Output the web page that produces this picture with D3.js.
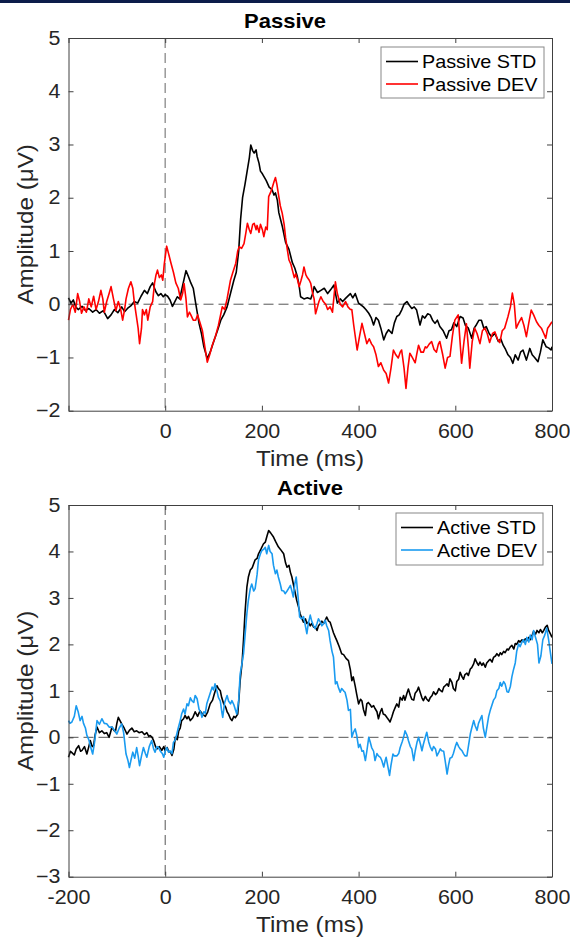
<!DOCTYPE html>
<html>
<head>
<meta charset="utf-8">
<script src="https://cdn.jsdelivr.net/npm/d3@7/dist/d3.min.js"></script>
<style>
body { margin: 0; background: #fff; }
svg text { font-family: "Liberation Sans", Arial, Helvetica, sans-serif; }
</style>
</head>
<body>
<svg width="570" height="937"></svg>
<script>
var timeTicks = [-200, 0, 200, 400, 600, 800];
var passiveTicks = [-2, -1, 0, 1, 2, 3, 4, 5];
var activeTicks = [-3, -2, -1, 0, 1, 2, 3, 4, 5];

// [time ms, amplitude uV]
var passiveStd = [[-200,0.12],[-195,0.02],[-190,0.08],[-185,-0.05],[-180,-0.1],[-172,-0.04],[-165,-0.12],[-158,-0.08],[-150,-0.15],[-143,-0.1],[-136,-0.17],[-128,-0.12],[-119,-0.27],[-112,-0.2],[-105,-0.1],[-98,-0.16],[-90,-0.05],[-84,-0.14],[-78,-0.08],[-70,-0.02],[-64,0.05],[-57,0.02],[-50,0.15],[-43,0.26],[-37,0.2],[-31,0.33],[-26,0.4],[-22,0.3],[-19,0.23],[-14,0.16],[-9,0.2],[-4,0.14],[0,0.18],[5,0.15],[10,0.08],[15,-0.04],[20,0.05],[25,0.14],[30,0.1],[36,0.35],[43,0.63],[48,0.52],[53,0.4],[58,0.3],[63,0.02],[70,-0.36],[75,-0.55],[80,-0.8],[87,-1.02],[93,-0.9],[101,-0.68],[108,-0.5],[115,-0.3],[121,-0.2],[128,-0.05],[135,0.2],[142,0.45],[147,0.6],[152,1.0],[156,1.6],[160,2.0],[165,2.25],[170,2.53],[174,2.75],[177,2.99],[181,2.88],[184,2.84],[188,2.9],[190,2.78],[194,2.65],[197,2.5],[201,2.45],[204,2.4],[209,2.32],[215,2.2],[221,2.15],[225,2.05],[228,2.09],[232,1.95],[235,1.72],[242,1.47],[249,1.16],[256,1.03],[263,0.78],[268,0.68],[273,0.53],[277,0.35],[280,0.14],[287,0.1],[294,0.12],[301,0.1],[305,0.2],[308,0.33],[315,0.22],[322,0.26],[329,0.3],[336,0.2],[342,0.27],[349,0.36],[356,0.02],[362,0.1],[367,0.05],[373,0.11],[383,0.2],[388,0.12],[393,0.2],[400,0.02],[410,-0.05],[415,-0.1],[421,-0.17],[426,-0.25],[431,-0.39],[436,-0.25],[441,-0.3],[446,-0.45],[452,-0.67],[457,-0.55],[462,-0.48],[469,-0.55],[474,-0.35],[479,-0.23],[484,-0.2],[489,-0.11],[494,0.0],[500,0.05],[505,-0.02],[510,-0.08],[515,-0.05],[520,-0.11],[527,-0.39],[532,-0.22],[537,-0.26],[543,-0.18],[548,-0.2],[553,-0.3],[558,-0.36],[563,-0.3],[568,-0.42],[575,-0.5],[582,-0.64],[587,-0.5],[592,-0.48],[597,-0.35],[603,-0.42],[610,-0.23],[616,-0.26],[621,-0.4],[627,-0.45],[634,-0.64],[639,-0.45],[644,-0.38],[649,-0.3],[654,-0.3],[659,-0.45],[664,-0.42],[670,-0.55],[675,-0.61],[682,-0.55],[689,-0.7],[694,-0.65],[699,-0.77],[704,-0.85],[709,-0.95],[714,-1.0],[719,-1.11],[724,-0.95],[730,-1.05],[735,-0.9],[740,-0.86],[747,-1.05],[754,-0.83],[759,-0.95],[764,-1.0],[771,-1.08],[776,-0.9],[781,-0.67],[788,-0.8],[793,-0.82],[798,-0.86],[800,-0.8]];

var passiveDev = [[-200,-0.3],[-196,-0.1],[-191,0.0],[-186,-0.15],[-181,0.2],[-177,0.05],[-173,-0.17],[-168,-0.05],[-163,-0.15],[-158,0.1],[-153,-0.05],[-148,0.15],[-143,-0.1],[-138,0.05],[-133,0.26],[-129,0.1],[-126,-0.15],[-121,0.05],[-116,0.2],[-112,0.33],[-107,0.1],[-102,-0.12],[-97,0.05],[-92,-0.1],[-88,-0.3],[-84,-0.1],[-81,0.1],[-76,0.3],[-71,0.42],[-67,0.3],[-64,0.05],[-60,-0.2],[-56,-0.45],[-53,-0.74],[-49,-0.45],[-47,-0.1],[-43,-0.2],[-39,-0.1],[-36,-0.3],[-31,-0.05],[-26,0.05],[-22,0.4],[-19,0.55],[-16,0.64],[-12,0.5],[-8,0.55],[-5,0.45],[-2,0.75],[3,1.09],[7,0.95],[12,0.77],[17,0.6],[22,0.4],[27,0.3],[32,0.08],[36,0.2],[39,0.39],[43,0.1],[46,-0.24],[50,-0.15],[53,-0.2],[58,-0.3],[63,-0.3],[67,-0.2],[72,-0.35],[77,-0.5],[82,-0.8],[87,-1.09],[92,-0.95],[97,-0.78],[104,-0.6],[110,-0.4],[118,-0.05],[123,-0.1],[128,0.1],[135,0.45],[140,0.6],[146,0.77],[150,1.0],[153,1.08],[158,1.05],[163,1.14],[167,1.35],[170,1.52],[174,1.4],[177,1.33],[181,1.5],[184,1.52],[188,1.4],[190,1.48],[194,1.35],[197,1.5],[201,1.4],[204,1.27],[208,1.45],[211,1.4],[214,2.02],[218,2.1],[221,2.18],[225,2.3],[228,2.38],[231,2.25],[235,2.02],[238,1.85],[242,1.71],[246,1.5],[249,1.25],[253,1.0],[256,0.83],[260,0.75],[263,0.64],[267,0.5],[270,0.57],[274,0.45],[277,0.33],[281,0.45],[284,0.55],[287,0.7],[291,0.55],[294,0.5],[298,0.45],[301,0.39],[305,0.2],[308,0.1],[311,-0.18],[315,-0.05],[318,0.05],[322,0.14],[327,0.05],[332,0.0],[336,-0.1],[341,-0.05],[346,-0.15],[352,0.42],[356,0.2],[362,0.0],[367,-0.05],[373,0.05],[378,-0.05],[383,-0.1],[386,-0.1],[390,-0.4],[397,-0.86],[402,-0.6],[407,-0.36],[412,-0.55],[417,-0.74],[422,-0.65],[427,-0.75],[431,-0.8],[436,-0.95],[441,-1.17],[446,-1.1],[452,-1.24],[457,-1.3],[462,-1.48],[467,-1.2],[472,-0.86],[477,-0.95],[482,-1.01],[486,-0.9],[489,-0.86],[494,-1.2],[498,-1.58],[502,-1.2],[506,-0.92],[511,-1.0],[517,-1.1],[520,-0.95],[524,-0.77],[529,-0.9],[534,-0.9],[538,-0.8],[541,-0.82],[546,-0.75],[551,-0.7],[556,-0.85],[561,-0.9],[565,-0.75],[568,-0.7],[574,-0.95],[579,-1.2],[584,-1.0],[589,-0.98],[594,-0.6],[599,-0.3],[606,-0.2],[609,-0.6],[613,-1.11],[618,-0.7],[623,-0.37],[627,-0.8],[630,-1.2],[635,-0.7],[640,-0.45],[645,-0.55],[651,-0.74],[656,-0.5],[661,-0.45],[666,-0.55],[671,-0.72],[677,-0.55],[682,-0.52],[687,-0.65],[692,-0.72],[697,-0.5],[702,-0.45],[709,-0.23],[714,-0.05],[718,0.21],[722,0.0],[726,-0.45],[731,-0.35],[737,-0.25],[742,-0.4],[747,-0.61],[752,-0.35],[757,-0.11],[762,-0.2],[768,-0.33],[773,-0.4],[778,-0.45],[783,-0.55],[787,-0.64],[791,-0.45],[795,-0.4],[800,-0.33]];

var activeStd = [[-200,-0.43],[-196,-0.3],[-193,-0.33],[-188,-0.38],[-184,-0.25],[-179,-0.18],[-175,-0.3],[-172,-0.28],[-167,-0.2],[-162,-0.36],[-158,-0.2],[-155,-0.07],[-151,-0.2],[-148,-0.18],[-145,0.05],[-141,0.22],[-136,0.1],[-131,0.14],[-126,0.08],[-121,0.1],[-116,0.0],[-110,0.22],[-106,0.15],[-103,0.12],[-100,0.3],[-97,0.43],[-93,0.35],[-90,0.29],[-85,0.2],[-79,0.07],[-74,0.15],[-69,0.2],[-64,0.12],[-59,0.14],[-54,0.1],[-48,0.12],[-43,0.06],[-38,0.1],[-34,0.02],[-31,0.04],[-27,0.0],[-24,-0.07],[-20,-0.2],[-17,-0.25],[-12,-0.2],[-7,-0.28],[-3,-0.2],[0,-0.29],[4,-0.22],[7,-0.3],[11,-0.32],[14,-0.39],[18,-0.25],[21,0.0],[25,-0.05],[28,0.14],[31,0.2],[34,0.36],[38,0.4],[41,0.47],[45,0.4],[48,0.45],[52,0.36],[57,0.42],[62,0.55],[67,0.45],[72,0.57],[77,0.5],[83,0.45],[88,0.55],[93,0.72],[98,0.8],[102,0.95],[107,1.11],[110,1.05],[114,1.0],[117,0.85],[121,0.72],[125,0.65],[128,0.55],[131,0.5],[135,0.4],[138,0.36],[142,0.45],[145,0.42],[150,0.5],[153,0.9],[155,1.22],[159,1.6],[162,2.1],[165,2.67],[169,3.24],[172,3.45],[176,3.6],[180,3.65],[186,3.82],[190,3.85],[193,3.95],[198,4.05],[203,4.16],[207,4.2],[211,4.35],[214,4.45],[218,4.4],[224,4.31],[229,4.2],[234,4.1],[238,4.05],[245,3.95],[249,3.75],[252,3.66],[256,3.7],[259,3.55],[262,3.45],[265,3.3],[269,3.1],[272,2.95],[276,2.8],[279,2.66],[283,2.55],[286,2.48],[290,2.55],[293,2.45],[296,2.48],[300,2.4],[303,2.45],[307,2.37],[310,2.38],[314,2.3],[317,2.4],[321,2.45],[324,2.5],[328,2.45],[331,2.52],[334,2.59],[338,2.5],[341,2.48],[345,2.35],[348,2.25],[352,2.15],[355,2.08],[360,1.95],[365,1.8],[369,1.78],[374,1.7],[379,1.65],[383,1.45],[386,1.22],[389,1.3],[393,1.1],[396,0.93],[400,0.72],[404,0.82],[407,0.78],[410,0.6],[414,0.47],[417,0.72],[420,0.75],[424,0.7],[427,0.65],[431,0.68],[434,0.62],[438,0.55],[441,0.4],[445,0.55],[448,0.62],[451,0.5],[455,0.48],[459,0.42],[462,0.38],[465,0.33],[469,0.45],[472,0.55],[476,0.65],[479,0.72],[483,0.65],[486,0.86],[490,0.8],[493,0.9],[496,0.8],[500,0.95],[503,1.04],[507,0.9],[510,0.82],[514,0.8],[517,0.95],[521,1.0],[524,1.08],[528,0.95],[531,0.85],[534,0.79],[538,0.88],[541,0.82],[545,0.78],[548,0.85],[552,0.9],[555,0.98],[559,0.92],[562,0.95],[566,1.05],[569,1.01],[573,0.98],[576,1.08],[579,1.11],[583,1.15],[586,1.1],[589,1.26],[593,1.18],[596,1.05],[600,1.0],[603,1.2],[607,1.25],[610,1.4],[614,1.3],[617,1.25],[620,1.35],[624,1.38],[627,1.33],[631,1.47],[634,1.5],[638,1.58],[641,1.69],[645,1.6],[648,1.55],[651,1.62],[655,1.55],[658,1.6],[662,1.51],[665,1.6],[669,1.65],[672,1.68],[676,1.62],[679,1.72],[683,1.75],[686,1.8],[690,1.75],[693,1.82],[696,1.78],[700,1.85],[703,1.82],[707,1.9],[710,1.88],[714,1.95],[717,1.98],[721,1.9],[724,2.02],[727,2.0],[731,2.08],[734,2.05],[738,2.1],[741,2.06],[745,2.12],[748,2.08],[752,2.15],[755,2.1],[759,2.2],[762,2.28],[766,2.22],[769,2.3],[773,2.25],[776,2.32],[780,2.25],[783,2.3],[787,2.38],[790,2.41],[793,2.3],[797,2.22],[800,2.15]];

var activeDev = [[-200,0.36],[-197,0.3],[-193,0.33],[-188,0.45],[-184,0.68],[-180,0.55],[-176,0.36],[-172,0.45],[-169,0.3],[-165,0.2],[-162,0.04],[-158,-0.05],[-155,-0.18],[-150,-0.36],[-146,-0.1],[-141,0.36],[-136,0.28],[-131,0.4],[-126,0.3],[-121,0.29],[-116,0.22],[-110,0.22],[-105,0.15],[-100,0.07],[-95,0.2],[-90,0.29],[-86,0.1],[-81,-0.36],[-77,-0.5],[-74,-0.65],[-70,-0.45],[-67,-0.32],[-63,-0.45],[-59,-0.22],[-56,-0.4],[-53,-0.61],[-49,-0.4],[-45,-0.22],[-41,-0.35],[-38,-0.43],[-33,-0.2],[-28,-0.07],[-24,-0.25],[-21,-0.32],[-17,-0.2],[-14,-0.22],[-10,-0.3],[-6,-0.35],[-3,-0.43],[0,-0.3],[3,-0.22],[7,-0.32],[10,-0.29],[14,-0.35],[17,-0.11],[21,-0.05],[24,0.07],[27,0.2],[31,0.36],[34,0.5],[38,0.61],[41,0.5],[45,0.72],[48,0.68],[52,0.85],[55,0.79],[59,0.75],[62,0.9],[66,0.83],[70,0.6],[73,0.55],[76,0.43],[80,0.55],[83,0.52],[86,0.72],[90,0.85],[93,0.95],[97,1.08],[100,1.02],[103,1.15],[107,1.0],[110,0.86],[114,0.78],[117,0.55],[119,0.43],[123,0.75],[128,0.9],[131,0.78],[135,0.72],[138,0.79],[142,0.7],[145,0.6],[148,0.5],[152,0.8],[155,1.36],[159,1.6],[162,1.8],[166,2.3],[169,2.67],[172,2.95],[176,3.2],[179,3.3],[183,3.15],[186,3.2],[190,3.5],[193,3.82],[197,3.95],[200,4.02],[204,4.05],[207,4.09],[210,3.95],[214,4.13],[217,4.0],[221,3.95],[224,3.7],[228,3.52],[231,3.6],[234,3.45],[238,3.3],[241,3.16],[245,3.15],[248,3.09],[252,3.15],[255,3.2],[259,3.27],[262,3.15],[265,3.02],[268,3.3],[271,3.45],[275,3.0],[278,2.59],[282,2.55],[286,2.6],[289,2.45],[293,2.23],[296,2.45],[300,2.63],[303,2.5],[307,2.4],[310,2.34],[314,2.45],[317,2.55],[321,2.48],[324,2.4],[328,2.45],[331,2.52],[334,2.4],[338,2.3],[341,2.08],[345,1.85],[348,1.73],[352,1.15],[355,1.2],[358,1.08],[362,0.97],[365,1.05],[369,1.0],[372,0.97],[376,0.8],[379,0.58],[383,0.6],[386,0.0],[389,0.1],[393,0.18],[396,0.05],[400,-0.22],[403,-0.15],[407,-0.3],[410,-0.29],[414,-0.5],[417,-0.3],[421,0.0],[424,-0.1],[427,-0.22],[431,-0.3],[434,-0.5],[438,-0.35],[441,-0.4],[445,-0.43],[448,-0.5],[452,-0.64],[455,-0.5],[457,-0.43],[460,-0.6],[464,-0.82],[467,-0.6],[471,-0.36],[474,-0.4],[479,-0.4],[483,-0.35],[486,-0.22],[490,-0.1],[493,0.0],[496,0.14],[500,0.05],[503,-0.07],[507,-0.2],[510,-0.25],[514,-0.5],[517,-0.3],[521,-0.1],[524,0.0],[528,-0.15],[531,-0.29],[534,-0.15],[538,0.0],[541,0.11],[545,-0.1],[548,-0.2],[552,-0.29],[555,-0.2],[559,-0.25],[562,-0.4],[566,-0.32],[569,-0.25],[572,-0.29],[576,-0.3],[579,-0.5],[583,-0.79],[586,-0.6],[589,-0.45],[593,-0.43],[596,-0.35],[600,-0.2],[603,-0.11],[607,-0.2],[610,-0.25],[614,-0.29],[617,-0.35],[620,-0.4],[624,-0.4],[627,-0.2],[631,0.07],[634,0.2],[638,0.36],[641,0.25],[645,0.15],[648,0.3],[652,0.4],[655,0.47],[658,0.2],[662,0.0],[665,0.2],[669,0.45],[672,0.57],[676,0.7],[679,0.8],[683,0.86],[686,1.0],[690,1.05],[693,1.18],[696,1.1],[700,1.2],[703,1.15],[707,0.98],[710,0.97],[714,1.1],[717,1.3],[720,1.44],[724,1.6],[727,1.85],[731,2.01],[734,1.95],[738,2.05],[741,2.1],[745,2.0],[748,2.15],[752,2.05],[755,2.2],[759,2.1],[762,2.3],[766,2.15],[770,2.0],[773,1.6],[777,1.75],[781,2.1],[785,2.2],[789,2.35],[793,2.1],[797,1.8],[800,1.58]];

var svg = d3.select("svg");

// thin navy strip on top of the slide
svg.append("rect")
    .attr("x", 0).attr("y", 0)
    .attr("width", 570).attr("height", 3)
    .attr("fill", "#0c1d4a");

// matlab text renders a bit wider than arial, so stretch it
function wide_text(parent, x, y, str, size, rot, anchor) {
    var g = parent.append("g")
        .attr("transform", "translate(" + x + "," + y + ") rotate(" + (rot || 0) + ") scale(1.1,1)");
    return g.append("text")
        .attr("text-anchor", anchor || "middle")
        .attr("font-size", size)
        .attr("fill", "#262626")
        .text(str);
}

function stretch_ticks(g) {
    g.selectAll(".tick text").each(function() {
        var t = d3.select(this);
        var x = +t.attr("x") || 0;
        t.attr("x", 0).attr("transform", "translate(" + x + ",0) scale(1.1,1)");
    });
}

function draw_panel(p) {
    var x = d3.scaleLinear().domain([-200, 800]).range([68.5, 552]);
    var y = d3.scaleLinear().domain(p.yDomain).range([p.bottom, p.top]);
    var g = svg.append("g");

    // zero lines
    g.append("line")
        .attr("x1", x(-200)).attr("x2", x(800))
        .attr("y1", y(0)).attr("y2", y(0))
        .attr("stroke", "#555").attr("stroke-width", 1)
        .attr("stroke-dasharray", "10,5");
    g.append("line")
        .attr("x1", x(0)).attr("x2", x(0))
        .attr("y1", p.top).attr("y2", p.bottom)
        .attr("stroke", p.vColor).attr("stroke-width", p.vWidth)
        .attr("stroke-dasharray", "10,5");

    var line = d3.line()
        .x(function(d) { return x(d[0]); })
        .y(function(d) { return y(d[1]); });
    p.series.forEach(function(s) {
        g.append("path")
            .datum(s.data)
            .attr("fill", "none")
            .attr("stroke", s.color)
            .attr("stroke-width", 1.6)
            .attr("stroke-linejoin", "round")
            .attr("d", line);
    });

    // axes, ticks point inward like matlab
    var ax = g.append("g")
        .attr("transform", "translate(0," + p.bottom + ")")
        .call(d3.axisBottom(x).tickValues(timeTicks).tickSizeInner(-5).tickSizeOuter(0).tickPadding(13)
            .tickFormat(function(d) { return (p.hideFirst && d === -200) ? "" : d; }));
    var ay = g.append("g")
        .attr("transform", "translate(" + x(-200) + ",0)")
        .call(d3.axisLeft(y).tickValues(p.yTicks).tickSizeInner(-5).tickSizeOuter(0).tickPadding(8)
            .tickFormat(d3.format("d")));
    var at = g.append("g")
        .attr("transform", "translate(0," + p.top + ")")
        .call(d3.axisTop(x).tickValues(timeTicks).tickSizeInner(-5).tickSizeOuter(0).tickFormat(""));
    var ar = g.append("g")
        .attr("transform", "translate(" + x(800) + ",0)")
        .call(d3.axisRight(y).tickValues(p.yTicks).tickSizeInner(-5).tickSizeOuter(0).tickFormat(""));
    [ax, ay, at, ar].forEach(function(a) {
        a.attr("font-family", null).attr("font-size", 19.5);
        a.selectAll("path, line").attr("stroke", "#404040");
        a.selectAll("text").attr("fill", "#262626");
    });
    stretch_ticks(ax);
    stretch_ticks(ay);

    // titles and labels
    wide_text(g, p.titleX, p.titleY, p.title, 20).attr("font-weight", "bold").attr("fill", "#000");
    wide_text(g, 310, p.bottom + 55, "Time (ms)", 22);
    wide_text(g, 33, (p.top + p.bottom) / 2, "Amplitude (\u03bcV)", 22, -90);

    // legend
    var lg = g.append("g");
    lg.append("rect")
        .attr("x", p.legend[0]).attr("y", p.legend[1])
        .attr("width", p.legend[2]).attr("height", p.legend[3])
        .attr("fill", "#fff").attr("stroke", "#888").attr("stroke-width", 1);
    p.series.forEach(function(s, i) {
        var ly = p.legend[1] + 14.5 + i * 22.5;
        lg.append("line")
            .attr("x1", p.legend[0] + 5).attr("x2", p.legend[0] + 37)
            .attr("y1", ly).attr("y2", ly)
            .attr("stroke", s.color).attr("stroke-width", 1.6);
        wide_text(lg, p.legend[0] + 41, ly + 6.5, s.name, 18, 0, "start").attr("fill", "#000");
    });
}

draw_panel({
    top: 38, bottom: 410.7, yDomain: [-2, 5], yTicks: passiveTicks,
    title: "Passive", titleX: 285, titleY: 28, hideFirst: true,
    vColor: "#999", vWidth: 1.5,
    legend: [381, 47, 163, 51],
    series: [
        {name: "Passive STD", color: "#000", data: passiveStd},
        {name: "Passive DEV", color: "#ff0000", data: passiveDev}
    ]
});

draw_panel({
    top: 505, bottom: 876.7, yDomain: [-3, 5], yTicks: activeTicks,
    title: "Active", titleX: 310, titleY: 495, hideFirst: false,
    vColor: "#555", vWidth: 1,
    legend: [396, 513, 147, 52],
    series: [
        {name: "Active STD", color: "#000", data: activeStd},
        {name: "Active DEV", color: "#1a9bf0", data: activeDev}
    ]
});
</script>
</body>
</html>
